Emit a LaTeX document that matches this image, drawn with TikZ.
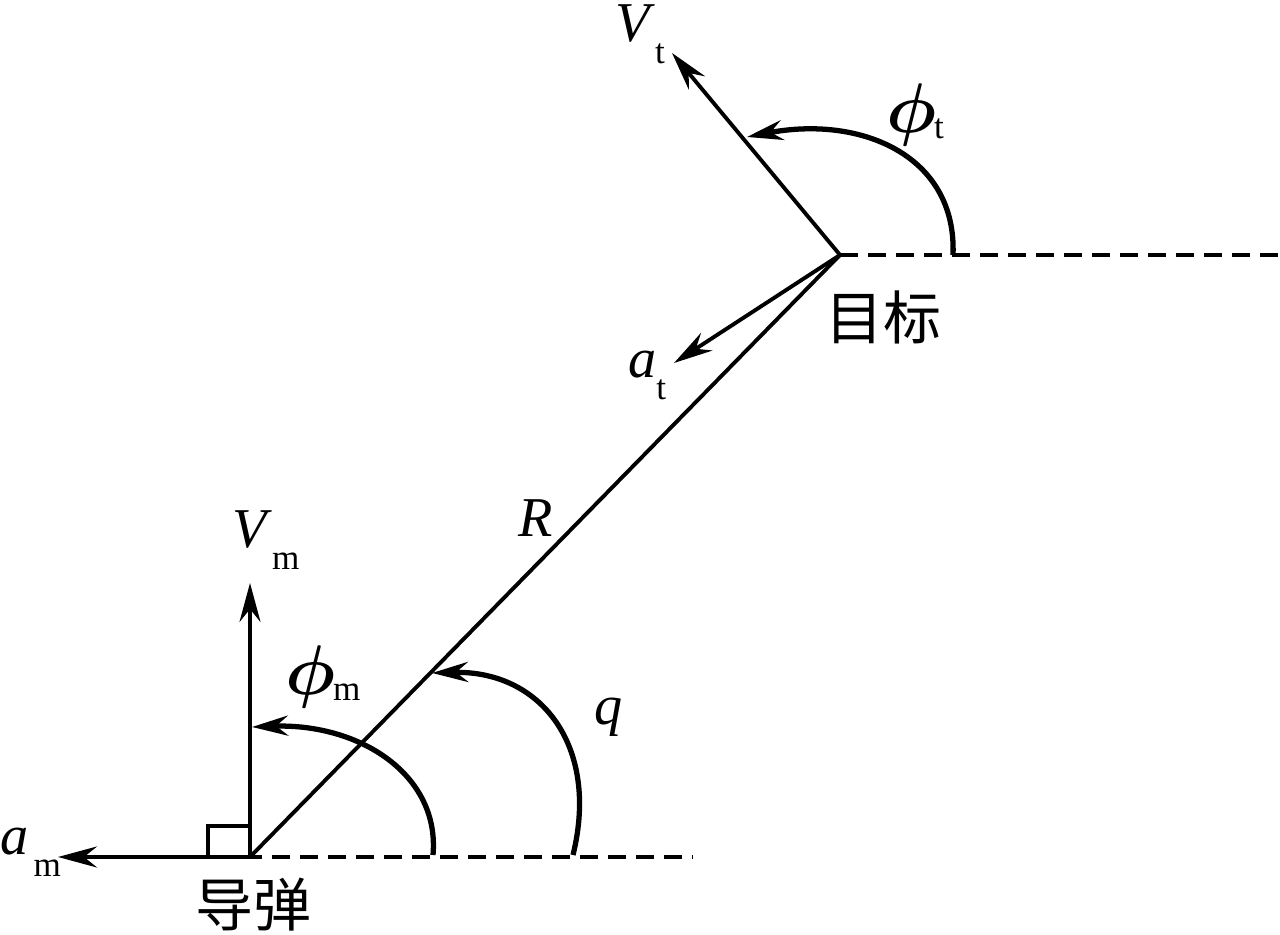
\RequirePackage{fix-cm}
\documentclass[tikz,border=0pt]{standalone}
\usepackage{bm}
\usepackage{fontspec}
\setmainfont{Liberation Serif}
\newfontfamily\cjk{Noto Sans CJK SC}
\usetikzlibrary{arrows.meta}
\newcommand{\subfnt}{\fontsize{20}{20}\selectfont}
\newcommand{\lowsub}[2]{\textit{#1}\raisebox{-12.5pt}{\subfnt #2}}
\newcommand{\angsub}[1]{{\fontsize{40}{44}\selectfont$\bm{\phi}$}\kern-0.04em\raisebox{-3pt}{\subfnt #1}}
\begin{document}
\begin{tikzpicture}[x=0.02cm,y=0.02cm,
    vec/.style={line width=2.2pt,-{Stealth[length=0.78cm,width=0.42cm,inset=0.26cm]}},
    ang/.style={line width=3pt,-{Stealth[length=0.72cm,width=0.4cm,inset=0.24cm]}},
    refline/.style={line width=2.2pt,dash pattern=on 0.36cm off 0.2cm},
    lab/.style={font=\fontsize{32}{36}\selectfont,inner sep=0pt,anchor=base west},
    cn/.style={font=\cjk\fontsize{33}{36}\selectfont,inner sep=0pt}]
  \useasboundingbox (0,0) rectangle (1280,935);
  % missile and target
  \coordinate (M) at (250,78);
  \coordinate (Mr) at (262,78);
  \coordinate (Mend) at (693,78);
  \coordinate (T) at (840,680);
  \coordinate (Tend) at (1280,680);
  \coordinate (Vm) at (250,352);
  \coordinate (am) at (58,78);
  \coordinate (Vt) at (672,882);
  \coordinate (at) at (674,572);
  \draw [refline, dash phase=0.36cm] (Mr) -- (Mend);
  \draw [refline] (T) -- (Tend);
  \draw [line width=2.2pt] (M) -- (T);
  \draw [vec] (M) -- (Vm);
  \draw [vec] (Mr) -- (am);
  \draw [vec] (T) -- (Vt);
  \draw [vec] (T) -- (at);
  \draw [line width=2.2pt] (M) rectangle +(-42,31);
  % angles
  \coordinate (pms) at (433,80);
  \coordinate (pme) at (252,208);
  \coordinate (qs) at (573,80);
  \coordinate (qe) at (432,262);
  \coordinate (pts) at (953,680);
  \coordinate (pte) at (747,798);
  \draw [ang] (pms) .. controls (440,160) and (360,212) .. (pme);
  \draw [ang] (qs) .. controls (600,190) and (540,265) .. (qe);
  \draw [ang] (pts) .. controls (957,780) and (860,820) .. (pte);
  % labels
  \node [lab] (lVm) at (232,387) {\lowsub{V}{m}};
  \node [lab] (lam) at (0,80) {\lowsub{a}{\kern0.15em m}};
  \node [lab] (lVt) at (615,893) {\lowsub{V}{t}};
  \node [lab] (lat) at (628,557) {\lowsub{a}{t}};
  \node [lab] (lpm) at (285,240) {\angsub{m}};
  \node [lab] (lpt) at (886,802) {\angsub{t}};
  \node [lab] (lq) at (594,210) {\textit{q}};
  \node [lab] (lR) at (518,398) {\textit{R}};
  \node [cn] (lT) at (883,618) {目标};
  \node [cn] (lM) at (253,30) {导弹};
\end{tikzpicture}
\end{document}
